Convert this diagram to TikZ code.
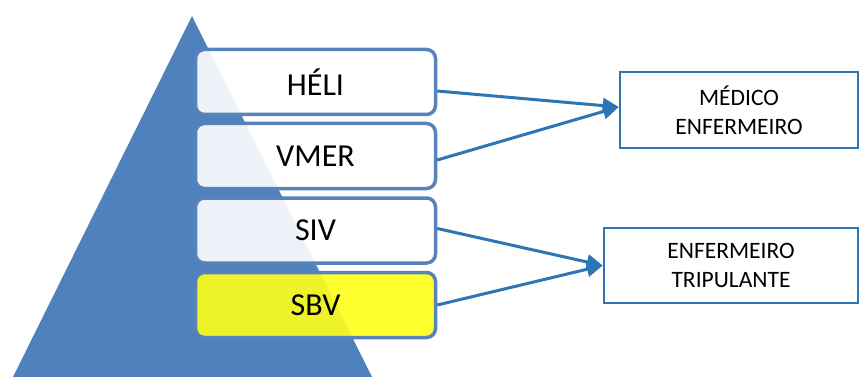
\documentclass[tikz,border=0pt]{standalone}
\usepackage{fontspec}
\setmainfont{Carlito}
\usepackage{tikz}
\usetikzlibrary{arrows.meta}
\usepackage{xcolor}
\definecolor{pyrblue}{RGB}{79,129,189}
\definecolor{boxline}{RGB}{88,130,186}
\definecolor{linkblue}{RGB}{46,117,182}
\definecolor{sbvyellow}{RGB}{255,255,26}

\begin{document}
\begin{tikzpicture}[x=1pt,y=-1pt]
	 \tikzstyle{level}=[draw=boxline,line width=3.5pt,rounded corners=9pt,fill=white,fill opacity=0.9,text opacity=1,minimum width=240pt,minimum height=65pt,inner sep=0pt,font=\fontsize{32}{36}\selectfont]
	 \tikzstyle{basic level} = [level, fill=sbvyellow]
	 \tikzstyle{crew}=[draw=linkblue,line width=2.5pt,fill=white,align=center,inner sep=0pt,font=\fontsize{23.5}{29}\selectfont]
	 \tikzstyle{link} = [draw,line width=3pt,linkblue,-{Triangle[length=16pt,width=15pt]}]

	 \useasboundingbox (0,0) rectangle (864,377);
	 \fill[pyrblue] (192,16) -- (372,377) -- (13,377) -- cycle;

	 \node[level] (heli) at (315.5,82) {HÉLI};
	 \node[level] (vmer) at (315.5,156) {VMER};
	 \node[level] (siv) at (315.5,230.5) {SIV};
	 \node[basic level] (sbv) at (315.5,305) {SBV};

	 \node[crew,minimum width=238pt,minimum height=76pt] (medico) at (739,110) {MÉDICO\\ENFERMEIRO};
	 \node[crew,minimum width=254pt,minimum height=75pt] (trip) at (731,265.5) {ENFERMEIRO\\TRIPULANTE};

	 \draw[link] ([yshift=-9pt]heli.east) -- ([yshift=3pt]medico.west);
	 \draw[link] ([yshift=-4pt]vmer.east) -- ([yshift=3pt]medico.west);
	 \draw[link] ([yshift=2pt]siv.east) -- (trip.west);
	 \draw[link] (sbv.east) -- (trip.west);
\end{tikzpicture}
\end{document}
